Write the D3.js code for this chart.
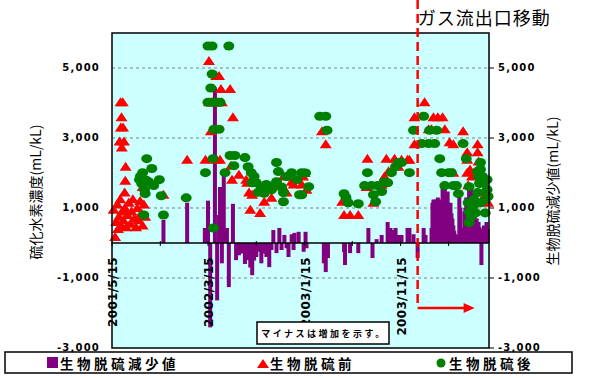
<!DOCTYPE html>
<html>
<head>
<meta charset="utf-8">
<script src="https://cdn.jsdelivr.net/npm/d3@7"></script>
<style>
  body { margin: 0; background: #fff; }
  svg { display: block; }
</style>
</head>
<body>
<script>
// 生物脱硫減少値 (mL/kL) — マイナスは増加
const reduceData = [
  ["2001-10-25", 660], ["2002-01-08", 1150], ["2002-03-05", 430], ["2002-03-15", 1210],
  ["2002-03-22", -2410], ["2002-04-06", 4450], ["2002-04-13", -1640], ["2002-04-19", 800],
  ["2002-04-22", 1600], ["2002-04-28", -580], ["2002-05-04", 1920], ["2002-05-14", 430],
  ["2002-05-20", -1260], ["2002-06-02", 1120], ["2002-06-12", -490], ["2002-06-21", -350],
  ["2002-06-28", -300], ["2002-07-04", -200], ["2002-07-10", -600], ["2002-07-14", -300],
  ["2002-07-20", -490], ["2002-07-27", -700], ["2002-08-02", -920], ["2002-08-08", -500],
  ["2002-08-15", -400], ["2002-08-24", -250], ["2002-08-31", -580], ["2002-09-09", -300],
  ["2002-09-16", -400], ["2002-09-25", -690], ["2002-10-02", -200], ["2002-10-08", 370],
  ["2002-10-18", -290], ["2002-10-27", 430], ["2002-11-03", -200], ["2002-11-12", 230],
  ["2002-11-19", -150], ["2002-11-25", -400], ["2002-12-05", 250], ["2002-12-11", -200],
  ["2002-12-14", 290], ["2002-12-27", 320], ["2003-01-12", -250], ["2003-01-18", 320],
  ["2003-01-21", -150], ["2003-03-17", -580], ["2003-03-23", -830], ["2003-03-30", -430],
  ["2003-05-20", -260], ["2003-05-23", -630], ["2003-06-08", -290], ["2003-07-04", -290],
  ["2003-08-05", 430], ["2003-08-18", -430], ["2003-08-31", 110], ["2003-09-16", 230],
  ["2003-10-05", 600], ["2003-10-14", 430], ["2003-10-24", 370], ["2003-10-30", 430],
  ["2003-11-08", 230], ["2003-11-18", 230], ["2003-12-07", 430], ["2003-12-13", 430],
  ["2003-12-26", 250], ["2004-01-08", -430], ["2004-01-27", 430], ["2004-02-02", 230],
  ["2004-02-21", 430], ["2004-02-24", 1150], ["2004-02-27", 1240], ["2004-03-02", 1240],
  ["2004-03-05", 1100], ["2004-03-08", 1240], ["2004-03-12", 1300], ["2004-03-15", 1240],
  ["2004-03-18", 1150], ["2004-03-21", 1000], ["2004-03-24", 1240], ["2004-03-27", 1600],
  ["2004-04-03", 1600], ["2004-04-06", 1300], ["2004-04-09", 1000], ["2004-04-12", 1470],
  ["2004-04-15", 900], ["2004-04-18", 850], ["2004-04-21", 1150], ["2004-04-24", 850],
  ["2004-04-27", 700], ["2004-04-30", 500], ["2004-05-03", 350], ["2004-05-07", 250],
  ["2004-05-13", 200], ["2004-05-19", 1470], ["2004-05-22", 1000], ["2004-05-25", 430],
  ["2004-05-31", 430], ["2004-06-04", 900], ["2004-06-07", 1000], ["2004-06-10", 1300],
  ["2004-06-13", 900], ["2004-06-16", 1200], ["2004-06-19", 1600], ["2004-06-22", 1300],
  ["2004-06-25", 1600], ["2004-06-28", 1000], ["2004-07-01", 700], ["2004-07-04", 1000],
  ["2004-07-07", 800], ["2004-07-10", 500], ["2004-07-13", 700], ["2004-07-16", 500],
  ["2004-07-19", 600], ["2004-07-22", 450], ["2004-07-28", -630], ["2004-08-01", 400],
  ["2004-08-05", 500], ["2004-08-09", 430], ["2004-08-13", 600], ["2004-08-17", 400]
];

// 生物脱硫前 (mL/kL)
const beforeData = [
  ["2001-05-20", 950], ["2001-05-25", 170], ["2001-05-28", 600], ["2001-06-01", 1100],
  ["2001-06-03", 400], ["2001-06-06", 750], ["2001-06-10", 1250], ["2001-06-13", 500],
  ["2001-06-16", 900], ["2001-06-20", 650], ["2001-06-25", 1000], ["2001-06-29", 450],
  ["2001-07-03", 800], ["2001-07-07", 1150], ["2001-07-12", 550], ["2001-07-16", 900],
  ["2001-07-20", 1250], ["2001-07-25", 700], ["2001-07-30", 450], ["2001-08-03", 1000],
  ["2001-08-07", 650], ["2001-08-12", 1200], ["2001-08-16", 850], ["2001-08-20", 500],
  ["2001-08-24", 1100], ["2001-08-28", 750], ["2001-06-11", 4020], ["2001-06-18", 4020],
  ["2001-06-14", 3590], ["2001-06-12", 3300], ["2001-06-19", 3300], ["2001-06-08", 2900],
  ["2001-06-22", 2900], ["2001-06-15", 2730], ["2001-06-27", 2180], ["2001-06-26", 1780],
  ["2001-06-24", 1440], ["2001-08-20", 1600], ["2001-10-25", 1380], ["2002-01-08", 2380],
  ["2002-03-07", 2380], ["2002-03-18", 5200], ["2002-04-10", 4770], ["2002-04-19", 4770],
  ["2002-04-25", 4400], ["2002-05-24", 4400], ["2002-06-02", 3590], ["2002-03-18", 4020],
  ["2002-03-28", 4020], ["2002-04-06", 4020], ["2002-04-16", 4020], ["2002-04-28", 4020],
  ["2002-03-24", 3190], ["2002-04-10", 2380], ["2002-04-22", 2380], ["2002-05-27", 2210],
  ["2002-06-21", 1950], ["2002-05-30", 1810], ["2002-07-14", 1810], ["2002-07-17", 1720],
  ["2002-07-23", 1440], ["2002-08-02", 1380], ["2002-07-27", 950], ["2002-08-27", 860],
  ["2002-09-09", 1180], ["2002-10-02", 1290], ["2002-11-09", 1900], ["2002-11-19", 1440],
  ["2002-12-05", 1750], ["2002-12-11", 1670], ["2002-12-20", 1800], ["2003-01-06", 1670],
  ["2003-01-10", 1900], ["2003-01-15", 2000], ["2003-01-21", 1520], ["2003-03-11", 3190],
  ["2003-03-23", 2820], ["2003-05-14", 1180], ["2003-05-20", 800], ["2003-06-08", 800],
  ["2003-07-04", 800], ["2003-08-02", 2410], ["2003-07-30", 1600], ["2003-08-21", 1150],
  ["2003-09-16", 1670], ["2003-09-25", 1900], ["2003-10-01", 2410], ["2003-10-08", 2050],
  ["2003-10-27", 2410], ["2003-11-08", 2180], ["2003-11-18", 2380], ["2003-12-07", 2380],
  ["2003-12-13", 2380], ["2003-12-29", 3590], ["2004-01-30", 4020], ["2004-02-27", 3590],
  ["2004-03-12", 3590], ["2004-03-27", 3590], ["2004-02-12", 3250], ["2004-02-21", 3250],
  ["2004-04-03", 3250], ["2004-05-31", 3190], ["2003-12-29", 2820], ["2004-04-18", 2880],
  ["2004-04-30", 2820], ["2004-07-16", 2820], ["2004-06-13", 2590], ["2004-06-13", 2380],
  ["2004-07-16", 2590], ["2004-07-19", 2330], ["2004-04-30", 2010], ["2004-06-13", 2010],
  ["2004-06-22", 2100], ["2004-07-19", 2100], ["2004-06-28", 1900], ["2004-08-03", 1720],
  ["2004-06-16", 1650], ["2004-08-10", 1400], ["2004-08-18", 1150]
];

// 生物脱硫後 (mL/kL)
const afterData = [
  ["2001-09-02", 2410], ["2001-08-20", 2010], ["2001-09-18", 2130], ["2001-08-10", 1810],
  ["2001-10-12", 1810], ["2001-09-24", 1640], ["2001-08-26", 1520], ["2001-08-28", 1410],
  ["2001-10-18", 1350], ["2001-08-24", 800], ["2001-10-25", 800], ["2002-01-05", 1290],
  ["2001-08-13", 1900], ["2001-08-17", 1700], ["2001-08-30", 1800], ["2001-09-08", 1750],
  ["2002-03-15", 5630], ["2002-03-28", 5630], ["2002-05-20", 5630], ["2002-03-28", 4830],
  ["2002-03-24", 4430], ["2002-03-15", 4020], ["2002-03-28", 4020], ["2002-04-10", 4020],
  ["2002-04-22", 4020], ["2002-04-03", 3250], ["2002-04-19", 3250], ["2002-03-31", 2410],
  ["2002-03-07", 2010], ["2002-05-08", 2010], ["2002-04-01", 430], ["2002-05-24", 2500],
  ["2002-06-08", 2500], ["2002-06-05", 2210], ["2002-07-10", 2440], ["2002-07-20", 2180],
  ["2002-07-30", 2010], ["2002-08-08", 1900], ["2002-08-02", 1720], ["2002-08-15", 1720],
  ["2002-08-21", 1450], ["2002-08-31", 1600], ["2002-09-09", 1420], ["2002-09-16", 1670],
  ["2002-10-02", 1520], ["2002-10-08", 1600], ["2002-10-18", 1750], ["2002-10-18", 2300],
  ["2002-10-24", 2040], ["2002-11-03", 1600], ["2002-11-09", 1440], ["2002-11-09", 1180],
  ["2002-11-19", 1900], ["2002-12-05", 2010], ["2002-12-21", 1810], ["2002-12-30", 1380],
  ["2003-01-06", 2010], ["2003-01-18", 2000], ["2003-01-28", 1610], ["2003-01-06", 1380],
  ["2003-03-04", 3620], ["2003-03-23", 3620], ["2003-03-27", 3220], ["2003-05-20", 1410],
  ["2003-05-26", 1300], ["2003-06-02", 1150], ["2003-07-04", 1120], ["2003-08-02", 2010],
  ["2003-07-24", 1640], ["2003-08-15", 1640], ["2003-09-03", 1640], ["2003-08-21", 1380],
  ["2003-08-28", 1180], ["2003-09-16", 1470], ["2003-09-25", 1750], ["2003-10-05", 1720],
  ["2003-10-17", 2010], ["2003-10-30", 2180], ["2003-11-08", 2300], ["2003-11-18", 2300],
  ["2003-12-13", 2010], ["2004-01-27", 3620], ["2003-12-26", 3220], ["2004-02-15", 3220],
  ["2004-03-08", 3220], ["2004-01-21", 2840], ["2004-02-12", 2840], ["2004-03-02", 2840],
  ["2004-05-31", 2840], ["2004-03-18", 2410], ["2004-03-24", 2010], ["2004-04-15", 2010],
  ["2004-04-24", 2010], ["2004-04-03", 1640], ["2004-04-30", 1640], ["2004-05-10", 1640],
  ["2004-05-16", 1410], ["2004-06-10", 2410], ["2004-06-19", 1610], ["2004-07-25", 2300],
  ["2004-07-25", 2100], ["2004-07-31", 1900], ["2004-08-03", 1720], ["2004-08-15", 1810],
  ["2004-08-15", 1520], ["2004-07-16", 1440], ["2004-07-04", 1240], ["2004-07-01", 1040],
  ["2004-06-19", 890], ["2004-06-25", 750], ["2004-06-19", 580], ["2004-08-09", 1240],
  ["2004-08-09", 860], ["2004-08-18", 1330], ["2004-07-25", 1150], ["2004-07-10", 860],
  ["2004-06-16", 1150], ["2004-07-16", 2050], ["2004-07-19", 1900], ["2004-07-22", 1700]
];

const yTicks = [5000, 3000, 1000, -1000, -3000];
const xTickDates = ["2001-05-15", "2001-10-15", "2002-03-15", "2002-08-15",
                    "2003-01-15", "2003-06-15", "2003-11-15", "2004-04-15"];
const xLabelDates = ["2001-05-15", "2002-03-15", "2003-01-15", "2003-11-15"];
const xDomain = ["2001-05-15", "2004-08-21"];
const yDomain = [-3000, 6000];
const moveDate = "2004-01-08";
const moveLabel = "ガス流出口移動";
const noteText = "マイナスは増加を示す。";
const seriesNames = ["生物脱硫減少値", "生物脱硫前", "生物脱硫後"];

const width = 591, height = 378;
const plot = { left: 112, right: 489, top: 33, bottom: 348 };
const purple = "#800080", red = "#ff0000", green = "#008000";
const jp = "'Noto Sans CJK JP', 'Noto Sans', sans-serif";
const num = "'DejaVu Sans', sans-serif";

const parse = d3.timeParse("%Y-%m-%d");
const fmtNum = d3.formatLocale({ decimal: ".", thousands: ",", grouping: [3], currency: ["", ""], minus: "-" }).format(",");
const fmtDate = d3.timeFormat("%Y/%-m/%-d");

const x = d3.scaleTime().domain(xDomain.map(parse)).range([plot.left, plot.right]);
const y = d3.scaleLinear().domain(yDomain).range([plot.bottom, plot.top]);

const svg = d3.select("body").append("svg")
  .attr("width", width)
  .attr("height", height);

svg.append("rect").attr("width", width).attr("height", height).attr("fill", "#fff");

// plot background
svg.append("rect")
  .attr("x", plot.left).attr("y", plot.top)
  .attr("width", plot.right - plot.left).attr("height", plot.bottom - plot.top)
  .attr("fill", "#ccffff");

// grid lines
svg.append("g").selectAll("line")
  .data(yTicks.filter(d => d > yDomain[0]))
  .join("line")
  .attr("x1", plot.left).attr("x2", plot.right)
  .attr("y1", d => y(d)).attr("y2", d => y(d))
  .attr("stroke", "#808080")
  .attr("stroke-dasharray", "3,3");

// bars
svg.append("g").selectAll("rect")
  .data(reduceData)
  .join("rect")
  .attr("x", d => x(parse(d[0])) - 2)
  .attr("width", 4)
  .attr("y", d => y(Math.max(0, d[1])))
  .attr("height", d => Math.abs(y(d[1]) - y(0)))
  .attr("fill", purple);

// zero axis with ticks
svg.append("line")
  .attr("x1", plot.left).attr("x2", plot.right)
  .attr("y1", y(0)).attr("y2", y(0))
  .attr("stroke", "#000").attr("stroke-width", 1.5);

svg.append("g").selectAll("line")
  .data(xTickDates)
  .join("line")
  .attr("x1", d => x(parse(d))).attr("x2", d => x(parse(d)))
  .attr("y1", y(0) - 2).attr("y2", y(0) + 3)
  .attr("stroke", "#000");

// date labels
svg.append("g").selectAll("text")
  .data(xLabelDates)
  .join("text")
  .attr("transform", d => "translate(" + (x(parse(d)) + 5) + "," + (y(0) + 14) + ") rotate(-90)")
  .attr("text-anchor", "end")
  .style("font-family", num)
  .style("font-weight", "bold")
  .style("font-size", "12px")
  .style("letter-spacing", "0.3px")
  .text(d => fmtDate(parse(d)));

// triangles (before)
const tri = "M0,-5L6,4L-6,4Z";
svg.append("g").selectAll("path")
  .data(beforeData)
  .join("path")
  .attr("d", tri)
  .attr("transform", d => "translate(" + x(parse(d[0])) + "," + y(d[1]) + ")")
  .attr("fill", red);

// circles (after)
svg.append("g").selectAll("ellipse")
  .data(afterData)
  .join("ellipse")
  .attr("cx", d => x(parse(d[0])))
  .attr("cy", d => y(d[1]))
  .attr("rx", 5.5).attr("ry", 4.5)
  .attr("fill", green);

// plot frame
svg.append("rect")
  .attr("x", plot.left).attr("y", plot.top)
  .attr("width", plot.right - plot.left).attr("height", plot.bottom - plot.top)
  .attr("fill", "none")
  .attr("stroke", "#000").attr("stroke-width", 1.5);

// left tick labels
svg.append("g").selectAll("text")
  .data(yTicks)
  .join("text")
  .attr("x", 100).attr("y", d => y(d) + 3)
  .attr("text-anchor", "end")
  .style("font-family", num).style("font-weight", "bold")
  .style("font-size", "10px").style("letter-spacing", "1.2px")
  .text(d => fmtNum(d));

// right ticks + labels
svg.append("g").selectAll("line")
  .data(yTicks)
  .join("line")
  .attr("x1", plot.right).attr("x2", plot.right + 5)
  .attr("y1", d => y(d)).attr("y2", d => y(d))
  .attr("stroke", "#000");

svg.append("g").selectAll("text")
  .data(yTicks)
  .join("text")
  .attr("x", 498).attr("y", d => y(d) + 3)
  .style("font-family", num).style("font-weight", "bold")
  .style("font-size", "10px").style("letter-spacing", "1.2px")
  .text(d => fmtNum(d));

// axis titles
svg.append("text")
  .attr("transform", "translate(41,192) rotate(-90)")
  .attr("text-anchor", "middle")
  .style("font-family", jp).style("font-size", "14px")
  .text("硫化水素濃度(mL/kL)");

svg.append("text")
  .attr("transform", "translate(558,191) rotate(-90)")
  .attr("text-anchor", "middle")
  .style("font-family", jp).style("font-size", "14px")
  .text("生物脱硫減少値(mL/kL)");

// gas outlet move marker
const mx = x(parse(moveDate));
svg.append("line")
  .attr("x1", mx).attr("x2", mx).attr("y1", 0).attr("y2", 308)
  .attr("stroke", red).attr("stroke-width", 2.5)
  .attr("stroke-dasharray", "9,5");
svg.append("line")
  .attr("x1", mx).attr("x2", mx + 50).attr("y1", 308).attr("y2", 308)
  .attr("stroke", red).attr("stroke-width", 2.5);
svg.append("path")
  .attr("d", "M" + (mx + 46) + ",303L" + (mx + 57) + ",308L" + (mx + 46) + ",313Z")
  .attr("fill", red);
svg.append("text")
  .attr("x", mx).attr("y", 25)
  .style("font-family", jp).style("font-size", "18px")
  .style("letter-spacing", "1px")
  .text(moveLabel);

// note box
svg.append("rect")
  .attr("x", 257).attr("y", 322).attr("width", 132).attr("height", 22)
  .attr("fill", "#fff").attr("stroke", "#000").attr("stroke-width", 1.5);
svg.append("text")
  .attr("x", 324).attr("y", 337)
  .attr("text-anchor", "middle")
  .style("font-family", jp).style("font-weight", "bold")
  .style("font-size", "9px").style("letter-spacing", "2.5px")
  .text(noteText);

// legend
svg.append("rect")
  .attr("x", 5).attr("y", 352).attr("width", 567).attr("height", 21)
  .attr("fill", "#fff").attr("stroke", "#000").attr("stroke-width", 1.5);

const legend = svg.append("g")
  .style("font-family", jp).style("font-weight", "bold")
  .style("font-size", "13.5px").style("letter-spacing", "3.5px");

legend.append("rect").attr("x", 47).attr("y", 357).attr("width", 11).attr("height", 11).attr("fill", purple);
legend.append("text").attr("x", 60).attr("y", 369).text(seriesNames[0]);

legend.append("path").attr("d", tri).attr("transform", "translate(263,364)").attr("fill", red);
legend.append("text").attr("x", 270).attr("y", 369).text(seriesNames[1]);

legend.append("ellipse").attr("cx", 441).attr("cy", 363).attr("rx", 4.5).attr("ry", 4.5).attr("fill", green);
legend.append("text").attr("x", 449).attr("y", 369).text(seriesNames[2]);
</script>
</body>
</html>
